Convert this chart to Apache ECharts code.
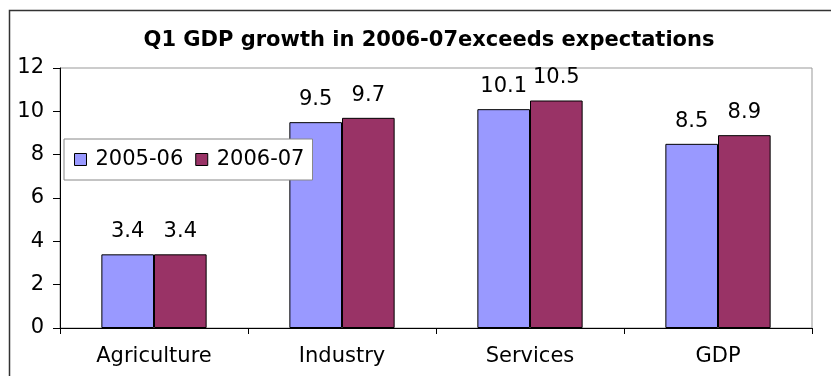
<!DOCTYPE html>
<html>
<head>
<meta charset="utf-8">
<script src="https://cdn.jsdelivr.net/npm/echarts@6/dist/echarts.min.js"></script>
<style>
  html, body { margin: 0; padding: 0; background: #fff; }
  #main { width: 831px; height: 376px; }
</style>
</head>
<body>
<div id="main"></div>
<script>
const categories = ['Agriculture', 'Industry', 'Services', 'GDP']
const seriesNames = ['2005-06', '2006-07']
const values0506 = [3.4, 9.5, 10.1, 8.5]
const values0607 = [3.4, 9.7, 10.5, 8.9]
const colors = ['#9999FF', '#993366']

const chart = echarts.init(document.getElementById('main'), null, { renderer: 'canvas' })

// stretched-looking Arial in the original, DejaVu Sans is closest in width
const font = 'DejaVu Sans, Liberation Sans, sans-serif'

const labelStyle = {
  show: true,
  position: 'top',
  distance: 12,
  color: '#000',
  fontSize: 21,
  fontFamily: font,
  formatter: p => p.value.toFixed(1)
}

const option = {
  animation: false,
  backgroundColor: '#fff',
  textStyle: { fontFamily: font },
  title: {
    text: 'Q1 GDP growth in 2006-07exceeds expectations',
    left: 424,
    top: 25,
    textAlign: 'center',
    textStyle: { fontSize: 21, fontWeight: 'bold', color: '#000', fontFamily: font }
  },
  graphic: [{
    type: 'rect',
    shape: { x: 9.5, y: 10.5, width: 840, height: 400 },
    style: { fill: 'none', stroke: '#333', lineWidth: 1.5 },
    silent: true
  }],
  legend: {
    left: 64,
    top: 139,
    orient: 'horizontal',
    backgroundColor: '#fff',
    borderColor: '#888',
    borderWidth: 1,
    padding: [10, 8, 10, 10],
    itemWidth: 12,
    itemHeight: 12,
    itemGap: 12,
    icon: 'rect',
    textStyle: { fontSize: 21, color: '#000', fontFamily: font, padding: [0, 0, 0, 4] },
    data: seriesNames.map((n, i) => ({
      name: n,
      itemStyle: { color: colors[i], borderColor: '#000', borderWidth: 1 }
    }))
  },
  grid: {
    left: 60,
    right: 19,
    top: 68,
    bottom: 48,
    show: true,
    borderColor: '#999',
    borderWidth: 1,
    containLabel: false
  },
  xAxis: {
    type: 'category',
    data: categories,
    axisLine: { lineStyle: { color: '#000', width: 1 } },
    axisTick: { show: true, length: 6, lineStyle: { color: '#000' } },
    axisLabel: { color: '#000', fontSize: 21, margin: 18 }
  },
  yAxis: {
    type: 'value',
    min: 0,
    max: 12,
    interval: 2,
    axisLine: { show: true, lineStyle: { color: '#000', width: 1 } },
    axisTick: { show: true, length: 7, lineStyle: { color: '#000' } },
    splitLine: { show: false },
    axisLabel: { color: '#000', fontSize: 21, margin: 16 }
  },
  series: [
    {
      name: seriesNames[0],
      type: 'bar',
      data: values0506,
      barGap: '0%',
      barCategoryGap: '44%',
      itemStyle: { color: colors[0], borderColor: '#000', borderWidth: 1 },
      label: labelStyle
    },
    {
      name: seriesNames[1],
      type: 'bar',
      data: values0607,
      itemStyle: { color: colors[1], borderColor: '#000', borderWidth: 1 },
      label: labelStyle
    }
  ]
}

chart.setOption(option)
</script>
</body>
</html>
